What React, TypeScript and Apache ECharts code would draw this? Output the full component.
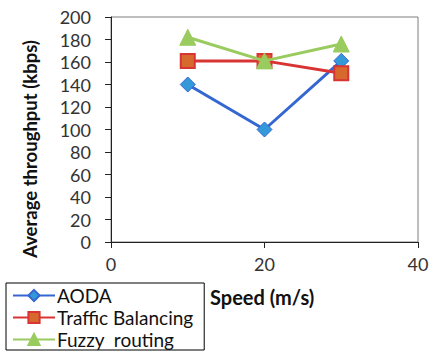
import React, { useEffect, useRef } from "react";
import * as echarts from "echarts";

const speeds = [10, 20, 30];
const aoda = [140, 100, 161];
const traffic = [161, 161, 150];
const fuzzy = [182, 161, 176];
const seriesNames = ["AODA", "Traffic Balancing", "Fuzzy  routing"];
const xTicks = [0, 20, 40];

const FONT = "Lato, 'Open Sans', sans-serif";

export default function App() {
  const ref = useRef<HTMLDivElement>(null);
  useEffect(() => {
    if (!ref.current) return;
    const chart = echarts.init(ref.current, undefined, { renderer: "svg" });
    const pts = (vals: number[]) => speeds.map((s, i) => [s, vals[i]]);
    chart.setOption({
      animation: false,
      backgroundColor: "#ffffff",
      textStyle: { fontFamily: FONT },
      grid: { left: 111, top: 17, right: 16, bottom: 110, show: true, borderColor: "#7f7f7f", borderWidth: 1 },
      xAxis: {
        type: "value",
        min: xTicks[0],
        max: xTicks[xTicks.length - 1],
        interval: 20,
        axisLine: { show: true, lineStyle: { color: "#222", width: 1 } },
        axisTick: { show: true, length: 6, lineStyle: { color: "#222" } },
        axisLabel: { color: "#333", fontSize: 18, margin: 13, fontFamily: FONT },
        splitLine: { show: false },
      },
      yAxis: {
        type: "value",
        min: 0,
        max: 200,
        interval: 20,
        axisLine: { show: true, lineStyle: { color: "#222", width: 1 } },
        axisTick: { show: true, length: 6, lineStyle: { color: "#222" } },
        axisLabel: { color: "#333", fontSize: 18, margin: 20, fontFamily: FONT },
        splitLine: { show: false },
      },
      legend: {
        orient: "vertical",
        left: 6,
        top: 283,
        padding: [3, 11, 1, 6],
        borderColor: "#000",
        borderWidth: 1,
        itemWidth: 42,
        itemHeight: 14,
        itemGap: 3,
        textStyle: { color: "#111", fontSize: 19, lineHeight: 19, fontFamily: FONT, padding: [0, 0, 0, -3] },
        data: seriesNames,
      },
      graphic: [
        {
          type: "text",
          x: 30,
          y: 149,
          rotation: Math.PI / 2,
          style: {
            text: "Average throughput (kbps)",
            fontSize: 18.5,
            fontWeight: "bold",
            fontFamily: FONT,
            fill: "#111",
            align: "center",
            verticalAlign: "middle",
          },
        },
        {
          type: "text",
          x: 210,
          y: 297,
          style: {
            text: "Speed (m/s)",
            fontSize: 20,
            fontWeight: "bold",
            fontFamily: FONT,
            fill: "#111",
            align: "left",
            verticalAlign: "middle",
          },
        },
      ],
      series: [
        {
          name: seriesNames[0],
          type: "line",
          data: pts(aoda),
          symbol: "diamond",
          symbolSize: 15,
          lineStyle: { color: "#3567D2", width: 3 },
          itemStyle: { color: "#3399D9", borderColor: "#3567D2", borderWidth: 1 },
          z: 2,
        },
        {
          name: seriesNames[1],
          type: "line",
          data: pts(traffic),
          symbol: "rect",
          symbolSize: 14,
          lineStyle: { color: "#D83434", width: 3 },
          itemStyle: { color: "#D8692E", borderColor: "#D83434", borderWidth: 2 },
          z: 3,
        },
        {
          name: seriesNames[2],
          type: "line",
          data: pts(fuzzy),
          symbol: "triangle",
          symbolSize: 16,
          lineStyle: { color: "#9ACB5E", width: 3 },
          itemStyle: { color: "#9ACB5E", borderColor: "#9ACB5E", borderWidth: 1 },
          z: 4,
        },
      ],
    });
    return () => chart.dispose();
  }, []);
  return (
    <div
      ref={ref}
      style={{ position: "fixed", left: 0, top: 0, width: 434, height: 352 }}
    />
  );
}
